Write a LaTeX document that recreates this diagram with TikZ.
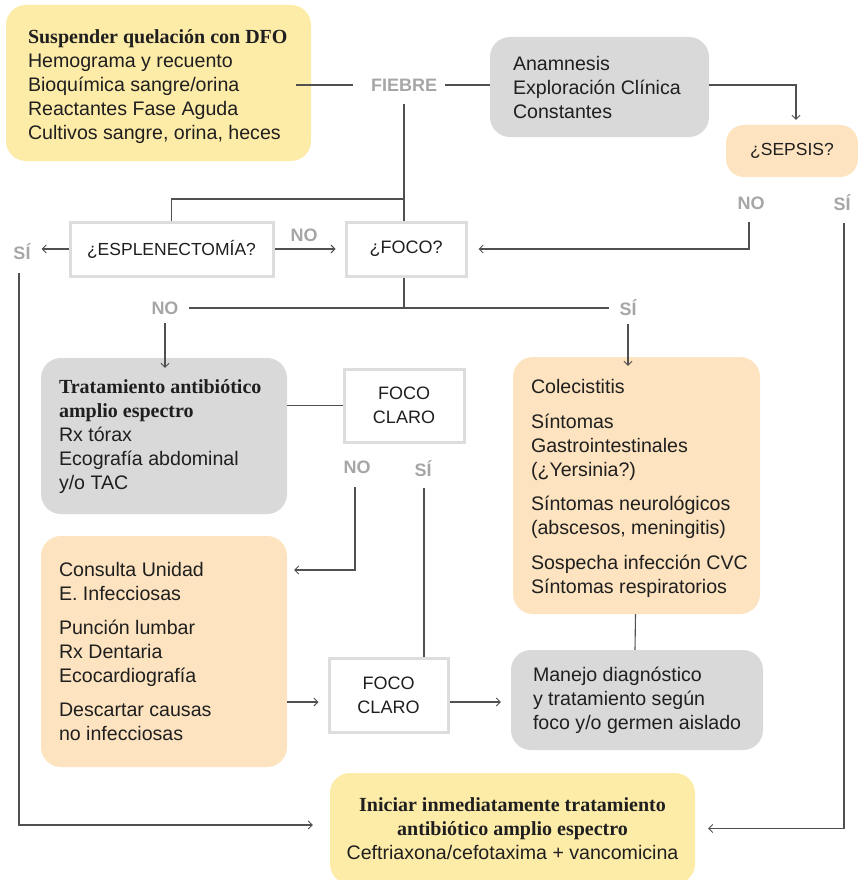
\documentclass[tikz,border=0pt]{standalone}
\usepackage{fontspec}
\setmainfont{Liberation Sans}
\newfontfamily\hfont{Liberation Serif}
\usetikzlibrary{arrows.meta,calc}
\definecolor{cyel}{HTML}{FDEBA8}
\definecolor{cpea}{HTML}{FDE3BF}
\definecolor{cgry}{HTML}{D9D9D9}
\definecolor{clab}{HTML}{A6A6A6}
\definecolor{cbrd}{HTML}{DDDDDD}
\definecolor{cln}{HTML}{505050}
\newcommand{\hd}{\hfont\bfseries\fontsize{20}{24}\selectfont}
\begin{document}
\begin{tikzpicture}[x=1pt,y=-1pt,
  every node/.style={font=\fontsize{19.6}{24}\selectfont, text=black!88},
  rbox/.style={rounded corners=20pt, inner sep=0pt},
  yelbox/.style={rbox, fill=cyel},
  peabox/.style={rbox, fill=cpea},
  grybox/.style={rbox, fill=cgry},
  tx/.style={anchor=west, align=left, inner sep=0pt},
  wbox/.style={draw=cbrd, line width=3pt, fill=white, align=center, inner sep=0pt, font=\fontsize{18}{24}\selectfont},
  lab/.style={font=\bfseries\fontsize{18}{20}\selectfont, text=clab, inner sep=0pt},
  conn/.style={draw=cln, line width=1.1pt},
  arr/.style={conn, -{Straight Barb[length=4pt,width=8pt,line width=0.9pt]}}
]
\clip (0,0) rectangle (858,880);

% boxes
\node[yelbox, minimum width=305pt, minimum height=156pt] (y1) at (158.5,83) {};
\node[tx] (y1t) at ($(y1.west)+(22,4)$)
  {{\hd Suspender quelación con DFO}\\Hemograma y recuento\\Bioquímica sangre/orina\\Reactantes Fase Aguda\\Cultivos sangre, orina, heces};
\node[lab] (fiebre) at (404,85) {FIEBRE};
\node[grybox, minimum width=219pt, minimum height=100pt] (g1) at (599.5,87) {};
\node[tx] (g1t) at ($(g1.west)+(23,0)$) {Anamnesis\\Exploración Clínica\\Constantes};
\node[peabox, rounded corners=18pt, minimum width=132pt, minimum height=52pt, font=\fontsize{17.5}{24}\selectfont] (sepsis) at (792,151) {¿SEPSIS?};
\node[lab] (sNO) at (751,203) {NO};
\node[lab] (sSI) at (842,203) {SÍ};

\node[wbox, minimum width=203pt, minimum height=54pt, font=\fontsize{17.5}{24}\selectfont] (esp) at (171.5,249) {¿ESPLENECTOMÍA?};
\node[lab] (eSI) at (22,252) {SÍ};
\node[lab] (eNO) at (304,235) {NO};
\node[wbox, minimum width=120pt, minimum height=54pt] (foco) at (406,249) {¿FOCO?};

\node[lab] (fNO) at (165,308) {NO};
\node[lab] (fSI) at (628,308) {SÍ};

\node[grybox, minimum width=246pt, minimum height=156pt] (g2) at (164,436) {};
\node[tx] (g2t) at ($(g2.west)+(18,1)$)
  {{\hd Tratamiento antibiótico}\\{\hd amplio espectro}\\Rx tórax\\Ecografía abdominal\\y/o TAC};
\node[wbox, minimum width=120pt, minimum height=73pt] (fc1) at (404,405.5) {FOCO\\CLARO};
\node[lab] (cNO) at (357,467) {NO};
\node[lab] (cSI) at (423,469) {SÍ};

\node[peabox, minimum width=246pt, minimum height=231pt] (o2) at (164,651.5) {};
\node[tx] (o2t) at ($(o2.west)+(18,0)$)
  {Consulta Unidad\\E. Infecciosas\\[10pt]Punción lumbar\\Rx Dentaria\\Ecocardiografía\\[10pt]Descartar causas\\no infecciosas};
\node[wbox, minimum width=119pt, minimum height=74pt] (fc2) at (388.5,695) {FOCO\\CLARO};

\node[peabox, minimum width=247pt, minimum height=257pt] (o3) at (636.5,485.5) {};
\node[tx] (o3t) at ($(o3.west)+(18,3)$)
  {Colecistitis\\[10.5pt]Síntomas\\Gastrointestinales\\(¿Yersinia?)\\[10.5pt]Síntomas neurológicos\\(abscesos, meningitis)\\[10.5pt]Sospecha infección CVC\\Síntomas respiratorios};
\node[grybox, minimum width=252pt, minimum height=100pt] (g3) at (637,700) {};
\node[tx] (g3t) at ($(g3.west)+(22,0)$) {Manejo diagnóstico\\y tratamiento según\\foco y/o germen aislado};

\node[yelbox, minimum width=365pt, minimum height=111pt, align=center] (y2) at (512.5,828.5)
  {{\hd Iniciar inmediatamente tratamiento}\\{\hd antibiótico amplio espectro}\\Ceftriaxona/cefotaxima + vancomicina};

% connectors
\draw[conn] ([xshift=-15pt]y1.east |- fiebre) -- ([xshift=-18pt]fiebre.west);
\draw[conn] ([xshift=8pt]fiebre.east) -- (g1.west |- fiebre);
\coordinate (sepin) at ($(sepsis.north)+(4,-5)$);
\draw[arr] (g1.east |- fiebre) -| (sepin);
\coordinate (fv) at ($(fiebre.south)+(0,13)$);
\draw[conn] (fv) -- (fv |- foco.north);
\draw[conn] (fv |- 0,199) -| (esp.north);
\draw[arr] (esp.west) -- ([xshift=11pt]eSI.east |- esp.west);
\draw[arr] (esp.east) -- ([xshift=-9pt]foco.west);

\coordinate (snt) at ($(sNO.south)+(-2,12)$);
\draw[arr] (snt) |- ([xshift=11pt]foco.east);
\coordinate (sst) at ($(sSI.south)+(2,12)$);
\draw[arr] (sst) |- ([xshift=13pt]y2.east);
\coordinate (est) at ($(eSI.south)+(-3,13)$);
\draw[arr] (est) |- ([xshift=-17pt,yshift=3.5pt]y2.west);

\draw[conn] (fv |- foco.south) -- (fv |- fNO);
\draw[conn] ([xshift=10pt]fNO.east) -- ([xshift=-10pt]fSI.west);
\draw[arr] ($(fNO.south)+(0,8)$) -- ([yshift=-10pt]fNO |- g2.north);
\draw[arr] ($(fSI.south)+(0,8)$) -- ([yshift=-9pt]fSI |- o3.north);

\draw[conn] (g2.east |- fc1.west) -- (fc1.west);
\coordinate (cnt) at ($(cNO.south)+(-2,13)$);
\draw[arr] (cnt) |- ([xshift=7pt]o2.east |- 0,570);
\coordinate (cst) at ($(cSI.south)+(1,11)$);
\draw[conn] (cst) -- (cst |- fc2.north);

\draw[arr] (o2.east |- 0,702) -- ([xshift=-9pt]fc2.west |- 0,702);
\draw[arr] (fc2.east |- 0,702) -- ([xshift=-10pt]g3.west |- 0,702);
\draw[conn] ($(o3.south)+(-1,0)$) -- ($(g3.north)+(-2,0)$);
\end{tikzpicture}
\end{document}
